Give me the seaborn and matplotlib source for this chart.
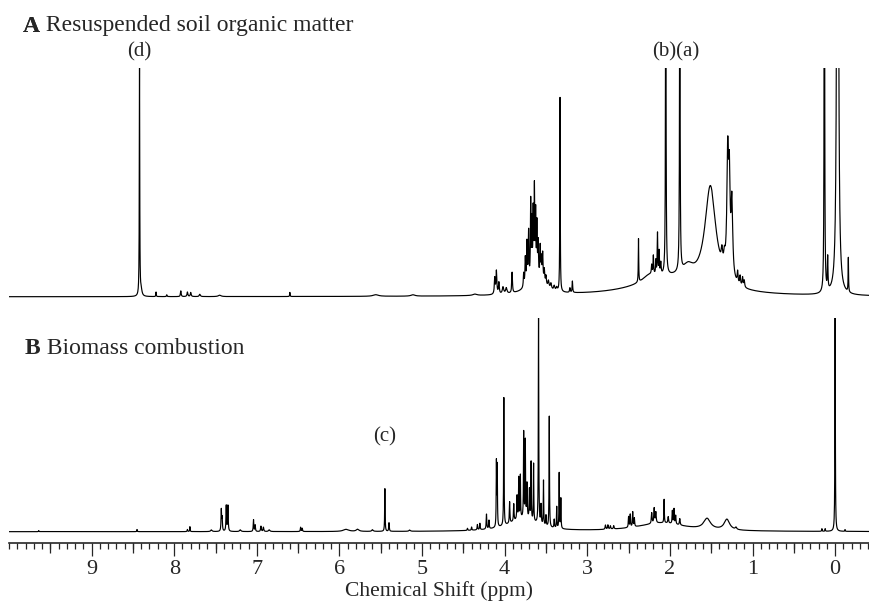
import numpy as np
import pandas as pd
import matplotlib
matplotlib.use("Agg")
import matplotlib.pyplot as plt
from matplotlib.ticker import MultipleLocator
import seaborn as sns

# ---------------- data ----------------
# Panel A: resuspended soil organic matter  (ppm, height in % of full scale, half-width ppm)
soil_ppm = [8.42, 8.40, 8.22, 8.09, 7.92, 7.84, 7.80, 7.69, 7.45, 6.60, 5.56, 5.11, 4.36,
            4.12, 4.10, 4.07, 4.02, 3.98, 3.91, 3.62,
            3.77, 3.75, 3.73, 3.71, 3.685, 3.67, 3.655, 3.64, 3.625, 3.61, 3.595, 3.57,
            3.555, 3.54, 3.52, 3.50, 3.47, 3.44, 3.40, 3.37,
            3.33, 3.21, 3.18, 2.00, 2.25, 2.38, 2.22, 2.20, 2.17, 2.15, 2.13, 2.11,
            2.05, 1.88, 1.78, 1.51, 1.37, 1.34, 1.30, 1.28, 1.25,
            1.18, 1.15, 1.12, 1.10, 0.13, 0.09, -0.03, -0.16]
soil_height = [102, 2.5, 2.0, 0.8, 2.5, 2.0, 1.8, 1.0, 0.6, 1.8, 0.7, 0.6, 0.6,
               7, 10, 5, 3, 2.5, 9, 7,
               6, 12, 18, 22, 34, 24, 28, 38, 27, 22, 15, 14,
               9, 12, 6, 4, 3, 2.5, 2, 1.5,
               85, 2, 5, 7.5, 3, 19, 4, 8, 6, 18, 10, 5,
               150, 150, 5, 44, 6, 5, 52, 38, 33,
               5, 4, 4, 3, 300, 14, 600, 15]
soil_width = [0.003, 0.012, 0.003, 0.004, 0.005, 0.006, 0.006, 0.008, 0.02, 0.003, 0.04, 0.03, 0.03,
              0.006, 0.006, 0.006, 0.01, 0.01, 0.005, 0.12,
              0.005, 0.005, 0.005, 0.005, 0.004, 0.004, 0.004, 0.004, 0.004, 0.004, 0.005, 0.005,
              0.005, 0.005, 0.006, 0.006, 0.008, 0.008, 0.008, 0.008,
              0.003, 0.005, 0.004, 0.5, 0.1, 0.003, 0.005, 0.004, 0.004, 0.004, 0.004, 0.005,
              0.004, 0.004, 0.08, 0.08, 0.01, 0.01, 0.012, 0.01, 0.012,
              0.006, 0.006, 0.006, 0.006, 0.003, 0.004, 0.007, 0.003]

# Panel B: biomass combustion
biomass_ppm = [9.64, 8.45, 7.84, 7.81, 7.55, 7.43, 7.42, 7.37, 7.35, 7.20, 7.04, 7.02,
               6.95, 6.92, 6.85, 6.47, 6.45, 5.92, 5.78, 5.60, 5.45, 5.40, 5.15,
               4.45, 4.40, 4.33, 4.30, 4.22, 4.19, 4.10, 4.09, 4.01, 3.94, 3.89,
               3.85, 3.83, 3.81, 3.77, 3.75, 3.73, 3.70, 3.68, 3.65, 3.59, 3.56, 3.53,
               3.50, 3.46, 3.40, 3.37, 3.34, 3.32, 3.78,
               2.78, 2.75, 2.72, 2.68, 2.50, 2.48, 2.45, 2.43, 2.22, 2.19, 2.17, 2.07,
               2.02, 1.97, 1.95, 1.93, 1.88, 1.55, 1.31, 1.20, 2.10,
               0.16, 0.12, 0.00, -0.12]
biomass_height = [0.5, 1.0, 1.0, 2.3, 0.8, 10, 6, 12, 12, 0.8, 5.5, 3,
                  2.5, 2.0, 0.8, 2.0, 1.5, 1.0, 1.0, 0.8, 20, 4, 0.6,
                  1, 1.5, 2.5, 3, 7, 4, 30, 28, 60, 10, 8,
                  11, 19, 20, 40, 36, 16, 14, 27, 27, 100, 9, 21,
                  5, 52, 4, 10, 26, 14, 6,
                  2, 2, 1.5, 1.5, 5, 6, 7, 4, 5, 7, 5, 11,
                  3, 6, 7, 4, 3, 5, 5, 1, 4,
                  1.2, 1.2, 103, 0.8]
biomass_width = [0.003, 0.003, 0.004, 0.003, 0.01, 0.004, 0.004, 0.004, 0.004, 0.01, 0.004, 0.004,
                 0.005, 0.005, 0.01, 0.004, 0.004, 0.04, 0.02, 0.01, 0.003, 0.004, 0.01,
                 0.004, 0.004, 0.004, 0.004, 0.004, 0.004, 0.003, 0.003, 0.003, 0.004, 0.004,
                 0.004, 0.003, 0.003, 0.003, 0.003, 0.004, 0.004, 0.003, 0.003, 0.003, 0.004, 0.003,
                 0.004, 0.003, 0.004, 0.003, 0.003, 0.003, 0.2,
                 0.005, 0.005, 0.005, 0.005, 0.004, 0.004, 0.004, 0.004, 0.005, 0.005, 0.005, 0.003,
                 0.005, 0.004, 0.004, 0.004, 0.005, 0.05, 0.04, 0.01, 0.35,
                 0.003, 0.003, 0.003, 0.003]

major_ticks = [0, 1, 2, 3, 4, 5, 6, 7, 8, 9]
major_labels = ["0", "1", "2", "3", "4", "5", "6", "7", "8", "9"]
half_ticks = [0.5, 1.5, 2.5, 3.5, 4.5, 5.5, 6.5, 7.5, 8.5, 9.5]

soil_labels = ["(d)", "(b)(a)"]
soil_label_ppm = [8.42, 1.93]
biomass_labels = ["(c)"]
biomass_label_ppm = [5.45]

# ---------------- build spectra ----------------
ppm_axis = np.round(np.arange(-0.41, 10.0005, 0.001), 4)


def spectrum(pos, hgt, wid):
    p = np.asarray(pos)[:, None]
    h = np.asarray(hgt)[:, None]
    w = np.asarray(wid)[:, None]
    return (h * w ** 2 / ((ppm_axis[None, :] - p) ** 2 + w ** 2)).sum(axis=0)


df_a = pd.DataFrame({"ppm": ppm_axis, "intensity": spectrum(soil_ppm, soil_height, soil_width)})
df_b = pd.DataFrame({"ppm": ppm_axis, "intensity": spectrum(biomass_ppm, biomass_height, biomass_width)})

# ---------------- figure ----------------
sns.set_style("white")
plt.rcParams["font.family"] = ["Liberation Serif", "DejaVu Serif"]

W, H = 869, 603
fig = plt.figure(figsize=(W / 100, H / 100), dpi=100)

left = 9 / W
width = (W - 9) / W
ax_a = fig.add_axes([left, (H - 305) / H, width, (305 - 68.3) / H])
ax_b = fig.add_axes([left, (H - 543) / H, width, (543 - 318.3) / H])

sns.lineplot(data=df_a, x="ppm", y="intensity", ax=ax_a, color="black",
             linewidth=0.85, estimator=None)
sns.lineplot(data=df_b, x="ppm", y="intensity", ax=ax_b, color="black",
             linewidth=0.85, estimator=None)

for ax in (ax_a, ax_b):
    ax.set_xlim(10.0, -0.41)
    ax.set_ylabel("")
    ax.set_xlabel("")
    for s in ("top", "right", "left"):
        ax.spines[s].set_visible(False)
    ax.set_yticks([])

ax_a.set_ylim(-3.6, 100)
ax_b.set_ylim(-5.3, 100)

ax_a.spines["bottom"].set_visible(False)
ax_a.set_xticks([])

ax_b.spines["bottom"].set_linewidth(1.2)
ax_b.set_xticks(major_ticks)
ax_b.set_xticklabels(major_labels)
ax_b.xaxis.set_minor_locator(MultipleLocator(0.1))
ax_b.tick_params(axis="x", which="major", direction="out", length=9.1, width=0.9,
                 labelsize=16, pad=3, bottom=True)
ax_b.tick_params(axis="x", which="minor", direction="out", length=4.3, width=0.9, bottom=True)

sec = ax_b.secondary_xaxis("bottom")
sec.set_xticks(half_ticks)
sec.tick_params(axis="x", which="major", direction="out", length=7.2, width=0.9,
                labelbottom=False)
sec.spines["bottom"].set_visible(False)

ax_b.set_xlabel("Chemical Shift (ppm)", fontsize=15.5, labelpad=1.5)

# peak labels
for txt, p in zip(soil_labels, soil_label_ppm):
    ax_a.text(p, 107, txt, ha="center", va="center", fontsize=15, clip_on=False)
for txt, p in zip(biomass_labels, biomass_label_ppm):
    ax_b.text(p, 44.4, txt, ha="center", va="center", fontsize=15, clip_on=False)

# panel titles
tA = fig.text(23 / W, 1 - 26 / H, "A", fontsize=17, fontweight="bold", va="center", ha="left")
fig.add_artist(tA)
plt.annotate(" Resuspended soil organic matter", xy=(1, 0), xycoords=tA,
             va="bottom", ha="left", fontsize=17, annotation_clip=False)
tB = fig.text(25 / W, 1 - 349 / H, "B", fontsize=17, fontweight="bold", va="center", ha="left")
plt.annotate(" Biomass combustion", xy=(1, 0), xycoords=tB, va="bottom", ha="left",
             fontsize=17, annotation_clip=False)

fig.savefig("out.png", dpi=100)
